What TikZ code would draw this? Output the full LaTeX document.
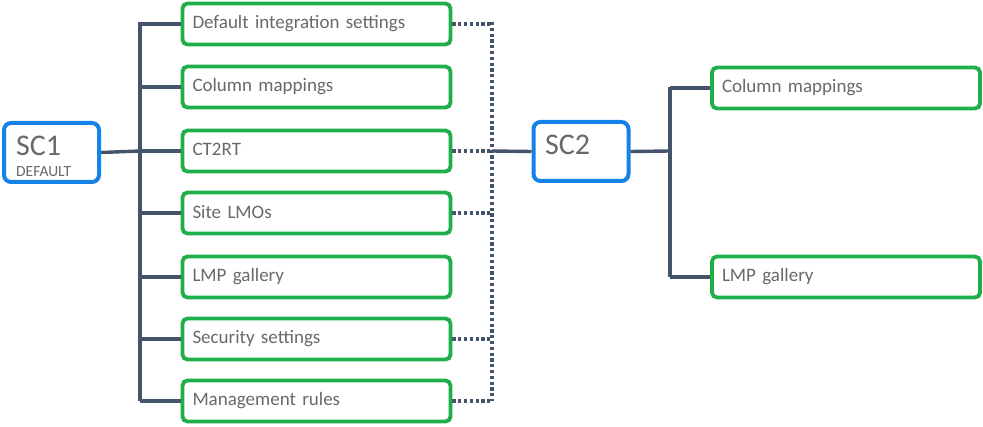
\documentclass[tikz,border=0pt]{standalone}
\usepackage{fontspec}
\setmainfont{Carlito}
\usetikzlibrary{shadows}
\definecolor{bluebd}{RGB}{20,130,230}
\definecolor{greenbd}{RGB}{30,175,75}
\definecolor{linec}{RGB}{68,84,106}
\definecolor{txt}{RGB}{105,105,105}
\begin{document}
\begin{tikzpicture}[x=1pt,y=-1pt,
  gbox/.style={draw=greenbd,line width=3.8pt,rounded corners=5pt,fill=white,
    minimum width=268pt,minimum height=41pt,text width=248pt,align=left,
    inner sep=0pt,text=txt,font=\fontsize{19}{21}\selectfont,
    drop shadow={opacity=0.25,shadow xshift=1.5pt,shadow yshift=-1.5pt}},
  bbox/.style={draw=bluebd,line width=4pt,rounded corners=7pt,fill=white,
    minimum width=95pt,minimum height=59pt,
    drop shadow={opacity=0.25,shadow xshift=1.5pt,shadow yshift=-1.5pt}},
  conn/.style={draw=linec,line width=3.4pt},
  dots/.style={draw=linec,line width=3.4pt,dash pattern=on 3.2pt off 2.6pt},
  lbl/.style={anchor=west,text=txt,inner sep=0pt}]
\useasboundingbox (0,0) rectangle (983,427);
\coordinate (t1) at (140,22);
\coordinate (t7) at (140,401);
\coordinate (d1) at (492,22);
\coordinate (d7) at (492,401);
\coordinate (dm) at (492,151);
\coordinate (r1) at (670,87);
\coordinate (r2) at (670,277);
\coordinate (tm) at (140,151);
\coordinate (rm) at (670,151);

\node[bbox] (sc1) at (51.5,152.5) {};
\node[lbl,font=\fontsize{30}{32}\selectfont] (sc1t) at (16,146) {SC1};
\node[lbl,font=\fontsize{15.5}{17}\selectfont] (sc1s) at (16,172) {DEFAULT};

\node[bbox] (sc2) at (581,151.5) {};
\node[lbl,font=\fontsize{30}{32}\selectfont] (sc2t) at (545,145) {SC2};

\draw[conn] (t1) -- (t7);
\draw[dots] (d1) -- (d7);
\draw[conn] (sc1.east) -- (tm);
\draw[conn] (dm) -- (sc2.west);
\draw[conn] (sc2.east) -- (rm);
\draw[conn] (r1) -- (r2);

\foreach \n/\y/\t in {a/24/Default integration settings, b/87/Column mappings, c/151/CT2RT, d/213/Site LMOs, e/277/LMP gallery, f/339/Security settings, g/401/Management rules}{
  \node[gbox] (\n) at (316.5,\y) {\raisebox{3pt}{\t}};
}
\foreach \n in {a,b,c,d,e,f,g}{
  \draw[conn] (\n.west) -- (\n.west -| t1);
}
\foreach \n in {a,c,d,f,g}{
  \draw[dots] (\n.east) -- (\n.east -| d1);
}
\node[gbox] (h) at (846,88) {\raisebox{3pt}{Column mappings}};
\node[gbox] (i) at (846,277) {\raisebox{3pt}{LMP gallery}};
\draw[conn] (h.west) -- (h.west -| r1);
\draw[conn] (i.west) -- (i.west -| r1);
\end{tikzpicture}
\end{document}
